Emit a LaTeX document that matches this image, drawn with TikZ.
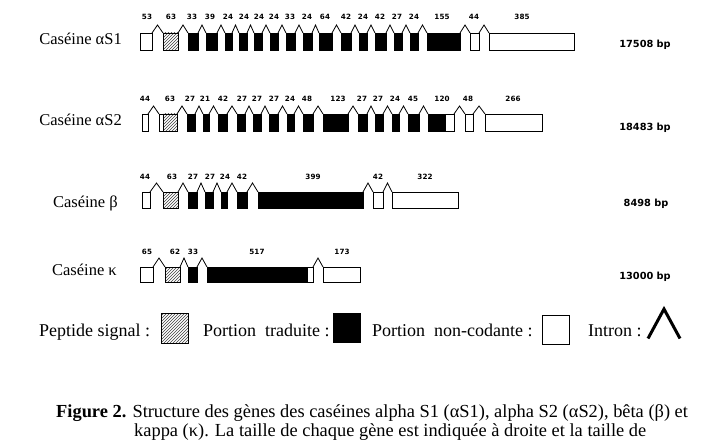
\documentclass[tikz,border=0pt]{standalone}
\usepackage{fontspec}
\setmainfont{Liberation Serif}
\newfontfamily\bpfont{DejaVu Sans}
\usetikzlibrary{calc,patterns}
\tikzset{
 exon/.style={rectangle, inner sep=0pt, outer sep=0pt, line width=0.9pt, draw=black},
 nc/.style={exon, fill=white},
 sp/.style={exon, pattern=north east lines, pattern color=black!75},
 cd/.style={exon, fill=black},
 intron/.style={line width=0.8pt, line join=miter},
 num/.style={font=\bpfont\bfseries\fontsize{7.2}{8}\selectfont, inner sep=0pt},
 sizelab/.style={font=\bpfont\bfseries\fontsize{9.8}{11}\selectfont, inner sep=0pt},
 rowlab/.style={font=\fontsize{16.5}{19}\selectfont, inner sep=0pt, anchor=base east},
 legtext/.style={font=\fontsize{18}{21}\selectfont, inner sep=0pt, anchor=base west},
 captext/.style={font=\fontsize{18.4}{21}\selectfont, inner sep=0pt, anchor=base west},
}
\begin{document}
\begin{tikzpicture}[x=1pt,y=-1pt]
\useasboundingbox (0,0) rectangle (720,441);
\fill[white] (0,0) rectangle (720,441);
\clip (0,0) rectangle (720,441);

% ---------- Row 1 : alpha S1
\node[rowlab] (L1) at (122,45) {Caséine αS1};
\foreach \n/\a/\b/\t in {1/140/152/nc,2/163/178/sp,3/188/198/cd,4/206/217/cd,5/225/232/cd,6/239/247/cd,7/254/262/cd,8/270/278/cd,9/286/295/cd,10/303/312/cd,11/319/332/cd,12/341/351/cd,13/359/367/cd,14/375/386/cd,15/394/402/cd,16/410/418/cd,17/427/460/cd,18/470/479/nc,19/489/574/nc}
  \node[\t, minimum width={(\b-\a)*1pt}, minimum height=17pt] (A\n) at ({(\a+\b)/2},41.5) {};
\foreach \p in {1,...,18}{
  \pgfmathtruncatemacro\q{\p+1}
  \draw[intron] (A\p.north east) -- ($(A\p.north east)!.5!(A\q.north west)+(0,-8)$) -- (A\q.north west);
}
\foreach \x/\s [count=\k] in {147/53,171/63,192/33,210/39,228/24,244/24,259/24,274/24,290/33,307/24,325/64,346/42,363/24,380/42,397/27,414/24,442/155,474/44,522/385}
  \node[num] (An\k) at (\x,17) {\s};
\node[sizelab] (S1) at (645,45) {17508\,\,bp};

% ---------- Row 2 : alpha S2
\node[rowlab] (L2) at (122,125) {Caséine αS2};
\foreach \n/\a/\b/\t in {1/142/148/nc,2a/159/163/nc,2/163/177/sp,3/187/195/cd,4/203/209/cd,5/218/227/cd,6/237/245/cd,7/253/261/cd,8/269/278/cd,9/287/294/cd,10/303/313/cd,11/323/348/cd,12/358/367/cd,13/375/383/cd,14/392/399/cd,15/408/419/cd,16/428/445/cd,16b/445/454/nc,17/465/473/nc,18/485/542/nc}
  \node[\t, minimum width={(\b-\a)*1pt}, minimum height=17pt] (B\n) at ({(\a+\b)/2},122.5) {};
\foreach \p/\q in {1/2a,2/3,3/4,4/5,5/6,6/7,7/8,8/9,9/10,10/11,11/12,12/13,13/14,14/15,15/16,16b/17,17/18}
  \draw[intron] (B\p.north east) -- ($(B\p.north east)!.5!(B\q.north west)+(0,-8)$) -- (B\q.north west);
\foreach \x/\s [count=\k] in {145/44,170/63,190/27,205/21,223/42,242/27,257/27,274/27,290/24,307/48,338/123,362/27,378/27,395/24,413/45,442/120,468/48,513/266}
  \node[num] (Bn\k) at (\x,99) {\s};
\node[sizelab] (S2) at (645,128) {18483\,\,bp};

% ---------- Row 3 : beta
\node[rowlab] (L3) at (118,207) {Caséine β};
\foreach \n/\a/\b/\t in {1/142/150/nc,2/163/178/sp,3/188/197/cd,4/205/213/cd,5/221/227/cd,6/237/247/cd,7/258/363/cd,8/373/383/nc,9/392/458/nc}
  \node[\t, minimum width={(\b-\a)*1pt}, minimum height=16pt] (C\n) at ({(\a+\b)/2},200) {};
\foreach \p in {1,...,8}{
  \pgfmathtruncatemacro\q{\p+1}
  \draw[intron] (C\p.north east) -- ($(C\p.north east)!.5!(C\q.north west)+(0,-9)$) -- (C\q.north west);
}
\foreach \x/\s [count=\k] in {145/44,172/63,193/27,210/27,225/24,242/42,313/399,378/42,425/322}
  \node[num] (Cn\k) at (\x,177) {\s};
\node[sizelab] (S3) at (646,203.5) {8498\,\,bp};

% ---------- Row 4 : kappa
\node[rowlab] (L4) at (117,275) {Caséine κ};
\foreach \n/\a/\b/\t in {1/140/153/nc,2/165/180/sp,3/188/197/cd,4/207/307/cd,4b/307/313/nc,5/323/360/nc}
  \node[\t, minimum width={(\b-\a)*1pt}, minimum height=15pt] (D\n) at ({(\a+\b)/2},274.5) {};
\foreach \p/\q in {1/2,2/3,3/4,4b/5}
  \draw[intron] (D\p.north east) -- ($(D\p.north east)!.5!(D\q.north west)+(0,-9)$) -- (D\q.north west);
\foreach \x/\s [count=\k] in {147/65,175/62,193/33,257/517,342/173}
  \node[num] (Dn\k) at (\x,252) {\s};
\node[sizelab] (S4) at (645,277) {13000\,\,bp};

% ---------- Legend
\node[legtext] (T1) at (39,336) {Peptide signal :};
\node[sp, minimum width=27pt, minimum height=30pt] (G1) at (174.5,328) {};
\node[legtext] (T2) at (203,336) {Portion\ \ traduite :};
\node[cd, minimum width=27pt, minimum height=29pt] (G2) at (346.5,327.5) {};
\node[legtext] (T3) at (372,336) {Portion\ \ non-codante :};
\node[nc, minimum width=27pt, minimum height=29pt] (G3) at (555.5,330) {};
\node[legtext] (T4) at (588,336) {Intron :};
\coordinate (G4l) at (648,338.5);
\coordinate (G4t) at (664,309);
\coordinate (G4r) at (680,338.5);
\draw[line width=3pt, line join=miter] (G4l) -- (G4t) -- (G4r);

% ---------- Caption
\node[captext] (cap1) at (56,417) {\textbf{Figure 2.} Structure des gènes des caséines alpha S1 (αS1), alpha S2 (αS2), bêta (β) et};
\node[captext] (cap2) at (134,436.5) {kappa (κ). La taille de chaque gène est indiquée à droite et la taille de};
\end{tikzpicture}
\end{document}
